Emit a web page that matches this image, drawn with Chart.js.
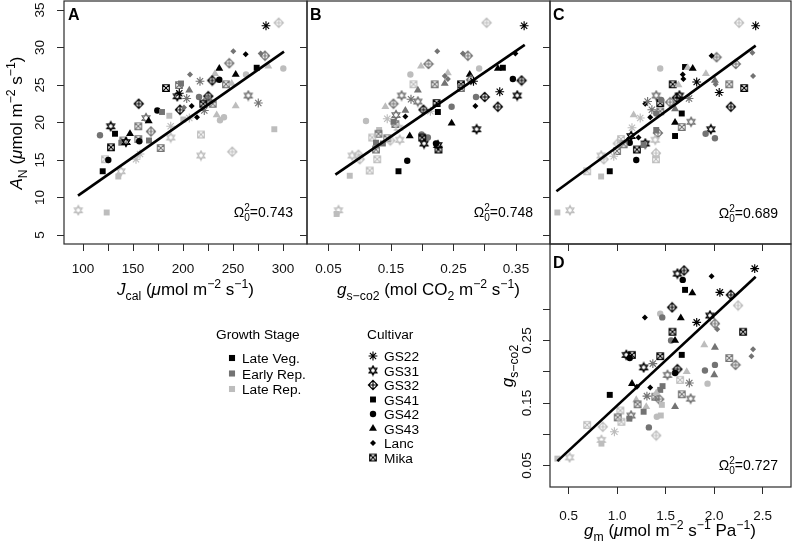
<!DOCTYPE html>
<html>
<head>
<meta charset="utf-8">
<script src="https://cdn.jsdelivr.net/npm/chart.js@4.4.0/dist/chart.umd.min.js"></script>
<style>
  html, body { margin: 0; padding: 0; background: #fff; }
  #wrap { position: relative; width: 793px; height: 545px; overflow: hidden; }
  #wrap canvas { position: absolute; left: 0; top: 0; }
</style>
</head>
<body>
<div id="wrap">
  <canvas id="cA" width="793" height="545"></canvas>
  <canvas id="cB" width="793" height="545"></canvas>
  <canvas id="cC" width="793" height="545"></canvas>
  <canvas id="cD" width="793" height="545"></canvas>
</div>
<script>
// cultivar index -> marker, stage index -> grey level
const cultivars = ['GS22', 'GS31', 'GS32', 'GS41', 'GS42', 'GS43', 'Lanc', 'Mika'];
const stages = ['Late Veg.', 'Early Rep.', 'Late Rep.'];
const stageColors = ['#000000', '#737373', '#bdbdbd'];

// tick labels
const ticksJcal = [100, 150, 200, 250, 300];
const ticksGs = [0.05, 0.15, 0.25, 0.35];
const ticksGm = [0.5, 1.0, 1.5, 2.0, 2.5];
const ticksAN = [5, 10, 15, 20, 25, 30, 35];
const ticksGsY = [0.05, 0.15, 0.25];

// fit statistics
const omegaA = '0.743', omegaB = '0.748', omegaC = '0.689', omegaD = '0.727';

// regression line end points
const fitA = [[95, 10.25], [301, 29.45]];
const fitB = [[0.061, 13.05], [0.364, 30.35]];
const fitC = [[0.374, 10.84], [2.428, 30.25]];
const fitD = [[0.384, 0.057], [2.428, 0.352]];

// [x, y, cultivar, stage]
// A: Jcal vs AN
const ptsA = [
  [283,32.9,0,0],[295.7,33.3,2,2],[250.3,29.5,6,1],[262.7,29.1,6,0],[277.7,29.2,6,1],[282,28.9,2,1],
  [273.7,27.3,3,0],[285.3,27.5,5,2],[300.3,27.2,4,2],[246.3,27.9,2,1],[236.3,27.2,5,0],[252.7,26.4,5,0],
  [232,26.5,5,2],[207,26.4,6,1],[217,25.5,0,1],[229.3,25.6,2,0],[236.3,25.7,4,0],[243,25.1,7,1],
  [248.7,25.2,5,2],[263,26.4,4,2],[198,25.2,3,1],[196,25.0,7,1],[183,24.6,7,0],[196.3,23.9,0,0],
  [194.3,23.5,1,0],[206.3,24.3,5,1],[203.7,23.2,0,1],[216,23.4,4,1],[225.3,23.5,2,0],[224.3,23.0,2,1],
  [220.3,22.5,7,0],[229.7,22.5,7,1],[221.3,21.6,0,1],[208.7,22.2,6,0],[214,20.7,6,0],[197,21.7,2,0],
  [201,22.0,6,1],[233.7,21.0,5,2],[237,20.3,4,2],[241,20.7,4,2],[252.7,22.2,5,2],[265.3,23.6,1,1],
  [275.3,22.6,0,1],[155.7,22.5,2,0],[163,20.6,1,1],[165.7,20.2,5,0],[174.3,21.6,4,0],[179,21.4,3,1],
  [186.3,20.9,3,2],[200.3,20.4,3,2],[206.3,20.6,0,2],[155.3,19.5,7,1],[168,18.8,2,1],[147,18.5,5,0],
  [127.7,19.5,1,0],[117,18.3,4,1],[132,18.5,3,0],[140.3,17.6,7,1],[138.3,17.3,3,1],[143,17.4,1,0],
  [128,16.7,7,0],[155.3,17.8,7,1],[156.3,17.5,4,0],[166,17.6,3,1],[157,15.8,0,2],[177.7,16.6,7,1],
  [187.7,18.0,1,2],[187.7,19.5,0,2],[218,18.4,7,2],[218,15.6,1,2],[249.3,16.1,2,2],[291.3,19.1,3,2],
  [122,15.1,7,2],[125.3,15.0,4,0],[119.7,13.5,3,0],[135.3,12.8,3,2],[138,13.5,1,2],[95.3,8.3,1,2],
  [123.7,8.0,3,2],[153,15.1,0,2]
];
// B: gs vs AN
const ptsB = [
  [0.363,32.9,0,0],[0.303,33.3,2,2],[0.224,29.5,6,1],[0.265,29.2,6,1],[0.273,28.9,2,1],[0.210,27.8,2,1],
  [0.198,27.5,5,2],[0.181,26.4,4,2],[0.241,26.6,5,2],[0.241,25.8,6,1],[0.236,26.2,6,1],[0.220,25.1,7,1],
  [0.236,25.2,5,1],[0.186,25.1,7,2],[0.193,24.3,5,1],[0.262,25.1,7,0],[0.262,24.6,7,1],[0.276,26.4,5,0],
  [0.278,25.7,2,1],[0.282,25.5,0,0],[0.291,27.2,4,2],[0.321,27.2,5,0],[0.329,27.3,3,0],[0.349,29.2,6,0],
  [0.345,25.8,4,0],[0.359,25.6,2,0],[0.324,24.1,0,0],[0.352,23.6,1,0],[0.300,23.4,2,0],[0.286,23.4,4,1],
  [0.285,22.2,6,0],[0.321,22.1,2,0],[0.287,19.1,1,0],[0.247,22.1,4,1],[0.247,19.9,5,0],[0.223,22.6,7,0],
  [0.225,21.4,3,0],[0.202,21.7,2,0],[0.213,21.5,0,2],[0.167,23.6,1,1],[0.182,23.1,0,1],[0.193,22.8,1,1],
  [0.141,22.1,5,2],[0.154,22.5,2,1],[0.173,21.6,5,1],[0.158,21.0,1,1],[0.173,20.8,6,0],[0.144,20.5,0,2],
  [0.154,20.1,3,1],[0.157,19.8,7,1],[0.162,19.3,1,2],[0.110,20.2,4,2],[0.131,19.0,3,2],[0.130,18.5,7,1],
  [0.120,18.0,7,2],[0.126,17.3,3,1],[0.137,17.2,3,1],[0.144,17.9,7,1],[0.149,17.6,2,2],[0.164,17.7,1,2],
  [0.180,18.2,5,0],[0.126,16.4,7,1],[0.098,15.7,2,2],[0.088,15.6,1,2],[0.100,15.1,2,2],[0.128,15.1,7,2],
  [0.116,13.6,7,2],[0.084,12.9,3,2],[0.176,14.9,4,0],[0.162,13.5,3,0],[0.199,18.4,4,1],[0.209,18.0,4,1],
  [0.200,18.0,7,0],[0.203,17.2,1,0],[0.222,17.2,4,0],[0.225,17.0,1,0],[0.226,16.4,7,0],[0.063,7.8,3,2],
  [0.066,8.3,1,2]
];
// C: gm vs AN
const ptsC = [
  [2.428,32.9,0,0],[2.257,33.3,2,2],[2.025,28.7,2,1],[1.973,28.9,6,0],[2.223,27.8,2,1],[2.394,29.3,6,1],
  [2.401,26.2,6,1],[2.155,25.1,7,1],[2.309,24.6,7,0],[2.008,25.6,5,1],[2.015,25.1,6,1],[2.052,24.0,0,0],
  [1.915,26.5,5,2],[2.172,22.1,2,0],[1.966,19.1,1,0],[1.912,18.5,4,1],[2.008,17.9,4,1],[1.444,27.2,4,2],
  [1.700,27.4,3,0],[1.727,27.3,5,2],[1.779,27.2,5,0],[1.676,26.4,6,0],[1.683,25.8,6,0],[1.820,25.4,0,0],
  [1.573,25.1,7,0],[1.632,25.0,5,2],[1.615,23.3,2,0],[1.642,23.6,1,0],[1.741,23.2,0,1],[1.403,23.6,1,1],
  [1.444,22.6,7,0],[1.454,23.0,4,1],[1.290,22.5,6,0],[1.314,22.8,0,1],[1.358,21.7,0,1],[1.341,20.7,6,0],
  [1.403,21.2,4,1],[1.444,21.5,7,1],[1.546,22.7,2,1],[1.597,21.8,5,1],[1.666,21.2,3,0],[1.597,20.0,5,0],
  [1.762,20.1,1,1],[1.666,19.4,7,1],[1.597,18.2,3,0],[1.170,21.0,5,2],[1.238,20.6,0,2],[1.153,19.3,0,2],
  [1.143,18.2,1,0],[1.130,17.3,4,0],[1.204,16.4,7,0],[1.290,17.2,1,0],[1.273,17.0,3,1],[1.197,15.0,4,0],
  [1.420,18.6,2,1],[1.403,19.0,3,1],[1.393,17.7,1,2],[1.400,15.9,2,2],[1.400,15.1,7,2],[1.040,17.8,7,2],
  [0.999,16.2,7,1],[0.965,15.5,0,2],[0.862,15.1,2,2],[0.835,15.6,1,2],[0.924,13.5,3,0],[0.835,12.8,3,2],
  [0.691,13.5,7,2],[0.514,8.3,1,2],[0.384,8.0,3,2],[1.067,17.1,7,1],[1.006,17.2,2,2],[1.220,18.0,6,0]
];
// D: gm vs gs
const ptsD = [
  [2.418,0.365,0,0],[1.973,0.353,6,0],[1.690,0.362,2,0],[1.621,0.357,1,0],[1.676,0.347,4,0],[1.700,0.331,3,0],
  [1.775,0.326,5,0],[2.059,0.327,0,0],[2.172,0.323,2,0],[2.247,0.306,2,2],[1.956,0.290,1,0],[2.008,0.277,2,1],
  [2.032,0.268,6,1],[2.298,0.264,7,0],[1.567,0.303,2,0],[1.444,0.293,4,2],[1.465,0.287,4,1],[1.286,0.287,6,0],
  [1.656,0.286,5,0],[1.820,0.279,0,0],[1.570,0.264,7,0],[1.556,0.250,4,1],[1.597,0.250,5,0],[1.898,0.243,5,2],
  [2.008,0.239,5,1],[2.401,0.236,6,1],[2.384,0.225,6,1],[2.155,0.222,7,1],[2.220,0.211,2,1],[1.666,0.227,3,0],
  [1.444,0.225,7,0],[1.094,0.227,1,0],[1.152,0.227,7,0],[1.130,0.222,4,0],[1.273,0.207,1,0],[1.368,0.213,0,1],
  [1.621,0.204,2,0],[1.597,0.198,4,0],[1.717,0.200,5,2],[1.519,0.195,1,1],[1.744,0.182,0,1],[1.649,0.187,7,2],
  [1.905,0.202,4,1],[2.008,0.211,4,1],[2.001,0.195,5,1],[1.932,0.181,4,2],[1.153,0.181,5,0],[1.204,0.176,6,0],
  [1.341,0.175,6,0],[0.924,0.163,3,0],[1.666,0.164,7,1],[1.758,0.157,1,1],[1.468,0.177,3,1],[1.444,0.171,3,1],
  [1.307,0.161,0,1],[1.393,0.160,7,1],[1.434,0.156,2,1],[1.403,0.166,5,2],[1.597,0.144,5,1],[1.197,0.155,5,2],
  [1.211,0.148,7,1],[1.300,0.144,5,2],[1.273,0.136,3,1],[1.143,0.130,1,1],[1.126,0.125,3,1],[1.033,0.138,7,2],
  [1.006,0.127,7,1],[1.044,0.120,7,2],[1.409,0.128,4,2],[1.450,0.130,3,2],[1.327,0.111,4,1],[1.403,0.098,2,2],
  [1.461,0.147,3,2],[0.852,0.112,2,2],[0.691,0.115,7,2],[0.972,0.104,0,2],[0.838,0.091,1,2],[0.838,0.085,3,2],
  [0.384,0.061,3,2],[0.510,0.063,1,2]
];

const FONT = "'Liberation Sans', Arial, Helvetica, sans-serif";
const W = 793, H = 545;
Chart.defaults.font.family = FONT;

// hollow R-style symbols drawn once into small canvases
function icon(kind, color) {
  const s = 12, m = s / 2;
  const c = document.createElement('canvas');
  c.width = s; c.height = s;
  const g = c.getContext('2d');
  g.strokeStyle = color;
  g.lineWidth = 1.15;
  g.beginPath();
  if (kind === 'david') {
    const r = 4.6;
    for (const start of [-Math.PI / 2, Math.PI / 2]) {
      for (let k = 0; k < 3; k++) {
        const ang = start + k * 2 * Math.PI / 3;
        const px = m + r * Math.cos(ang), py = m + r * Math.sin(ang);
        if (k === 0) g.moveTo(px, py); else g.lineTo(px, py);
      }
      g.closePath();
    }
  } else if (kind === 'dplus') {
    const r = 4.6;
    g.moveTo(m, m - r); g.lineTo(m + r, m); g.lineTo(m, m + r); g.lineTo(m - r, m); g.closePath();
    g.moveTo(m, m - r); g.lineTo(m, m + r);
    g.moveTo(m - r, m); g.lineTo(m + r, m);
  } else {
    const r = 3.3;
    g.rect(m - r, m - r, 2 * r, 2 * r);
    g.moveTo(m - r, m - r); g.lineTo(m + r, m + r);
    g.moveTo(m + r, m - r); g.lineTo(m - r, m + r);
  }
  g.stroke();
  return c;
}
const icons = {
  1: stageColors.map(c => icon('david', c)),
  2: stageColors.map(c => icon('dplus', c)),
  7: stageColors.map(c => icon('sqx', c))
};
const shapes = { 0: ['star', 4.4], 3: ['rect', 4.2], 4: ['circle', 3.2], 5: ['triangle', 4.6], 6: ['rectRot', 3.0] };

function ptStyle(ctx) {
  const r = ctx.raw;
  if (!r) return 'circle';
  return icons[r.c] ? icons[r.c][r.s] : shapes[r.c][0];
}
function ptRadius(ctx) {
  const r = ctx.raw;
  if (!r) return 3;
  return icons[r.c] ? 5 : shapes[r.c][1];
}
function ptColor(ctx) {
  const r = ctx.raw;
  return r ? stageColors[r.s] : '#000';
}
function ptBorder(ctx) {
  const r = ctx.raw;
  return r && r.c === 0 ? 1.15 : 0;
}

function makeDatasets(pts, fit) {
  return [
    {
      data: fit.map(p => ({ x: p[0], y: p[1] })),
      showLine: true, borderColor: '#000', borderWidth: 2.6,
      pointRadius: 0, pointHoverRadius: 0
    },
    {
      data: pts.map(p => ({ x: p[0], y: p[1], c: p[2], s: p[3] })),
      showLine: false,
      pointStyle: ptStyle, pointRadius: ptRadius,
      pointBackgroundColor: ptColor, pointBorderColor: ptColor, pointBorderWidth: ptBorder
    }
  ];
}

// rich text with italic / sub / superscript pieces
function rich(ctx, segs, cx, cy, size, rot) {
  const items = segs.map(s => {
    const sz = (s.sub || s.sup) ? size * 0.72 : size;
    const font = (s.i ? 'italic ' : '') + sz + 'px ' + FONT;
    ctx.font = font;
    return { s, font, w: ctx.measureText(s.t).width };
  });
  const total = items.reduce((a, it) => a + it.w, 0);
  ctx.save();
  ctx.translate(cx, cy);
  if (rot) ctx.rotate(-Math.PI / 2);
  ctx.textAlign = 'left';
  ctx.textBaseline = 'alphabetic';
  ctx.fillStyle = '#000';
  let x = -total / 2;
  items.forEach(it => {
    ctx.font = it.font;
    const dy = it.s.sub ? size * 0.28 : it.s.sup ? -size * 0.42 : 0;
    ctx.fillText(it.s.t, x, dy);
    x += it.w;
  });
  ctx.restore();
}

function drawOmega(ctx, val, right, base) {
  const fs = 14, ss = 10;
  ctx.font = fs + 'px ' + FONT;
  const wO = ctx.measureText('\u03A9').width;
  const wR = ctx.measureText('=' + val).width;
  ctx.font = ss + 'px ' + FONT;
  const wS = ctx.measureText('0').width;
  let x = right - (wO + wS + wR);
  ctx.textAlign = 'left';
  ctx.textBaseline = 'alphabetic';
  ctx.fillStyle = '#000';
  ctx.font = fs + 'px ' + FONT;
  ctx.fillText('\u03A9', x, base);
  x += wO;
  ctx.font = ss + 'px ' + FONT;
  ctx.fillText('2', x, base - 6);
  ctx.fillText('0', x, base + 3.5);
  x += wS;
  ctx.font = fs + 'px ' + FONT;
  ctx.fillText('=' + val, x, base);
}

const decor = {
  id: 'decor',
  afterDraw(chart, args, o) {
    const ctx = chart.ctx, a = chart.chartArea;
    ctx.save();
    ctx.strokeStyle = '#2b2b2b';
    ctx.lineWidth = 1.2;
    ctx.strokeRect(a.left, a.top, a.right - a.left, a.bottom - a.top);
    ctx.fillStyle = '#000';
    ctx.font = 'bold 16px ' + FONT;
    ctx.textAlign = 'left';
    ctx.textBaseline = 'alphabetic';
    ctx.fillText(o.letter, o.letterAt[0], o.letterAt[1]);
    drawOmega(ctx, o.omega, o.omegaAt[0], o.omegaAt[1]);
    (o.titles || []).forEach(t => rich(ctx, t.segs, t.x, t.y, 17, t.rot));
    ctx.restore();
  }
};

const legendPlugin = {
  id: 'legendBlock',
  afterDraw(chart) {
    const ctx = chart.ctx;
    ctx.save();
    ctx.fillStyle = '#000';
    ctx.strokeStyle = '#000';
    ctx.textAlign = 'left';
    ctx.textBaseline = 'alphabetic';
    ctx.font = '13.7px ' + FONT;
    ctx.fillText('Growth Stage', 216, 339);
    ctx.fillText('Cultivar', 367, 339);
    stages.forEach((name, i) => {
      const y = 358 + i * 15.5;
      ctx.fillStyle = stageColors[i];
      Chart.helpers.drawPoint(ctx, { pointStyle: 'rect', radius: 4.3, borderWidth: 0, rotation: 0 }, 232, y);
      ctx.fillStyle = '#000';
      ctx.fillText(name, 242, y + 5);
    });
    cultivars.forEach((name, i) => {
      const y = 356 + i * 14.5;
      ctx.fillStyle = '#000';
      ctx.strokeStyle = '#000';
      ctx.lineWidth = 1.15;
      const style = icons[i] ? icons[i][0] : shapes[i][0];
      const radius = icons[i] ? 5 : shapes[i][1];
      Chart.helpers.drawPoint(ctx, { pointStyle: style, radius, borderWidth: i === 0 ? 1.15 : 0, rotation: 0 }, 373, y);
      ctx.fillText(name, 384, y + 5);
    });
    ctx.restore();
  }
};

function inList(list, v) { return list.some(t => Math.abs(t - v) < 1e-9); }

function axis(a, dir) {
  const isX = dir === 'x';
  return {
    type: 'linear',
    position: isX ? 'bottom' : 'left',
    min: a.min, max: a.max,
    grid: { display: true, drawOnChartArea: false, drawTicks: true, tickLength: 7, tickColor: '#2b2b2b', lineWidth: 1 },
    border: { display: false },
    ticks: {
      stepSize: a.step,
      includeBounds: false,
      autoSkip: false,
      display: !!a.labels,
      font: { size: 13.5, family: FONT },
      color: '#111',
      padding: a.pad || 0,
      minRotation: isX ? 0 : 90,
      maxRotation: isX ? 0 : 90,
      crossAlign: isX ? 'near' : 'center',
      callback: v => (a.labels && inList(a.labels, v)) ? v.toFixed(a.dec) : ''
    },
    afterBuildTicks: s => { s.ticks = s.ticks.filter(t => t.value >= a.lo - 1e-9 && t.value <= a.hi + 1e-9); },
    afterFit: s => {
      if (isX) { s.height = 50; s.paddingLeft = 0; s.paddingRight = 0; }
      else { s.width = 50; s.paddingTop = 0; s.paddingBottom = 0; }
    }
  };
}

function panel(id, cfg) {
  const b = cfg.box; // left, top, right, bottom of the plot frame
  return new Chart(document.getElementById(id), {
    type: 'scatter',
    data: { datasets: makeDatasets(cfg.pts, cfg.fit) },
    options: {
      responsive: false,
      animation: false,
      events: [],
      layout: { autoPadding: false, padding: { left: b[0] - 50, top: b[1], right: W - b[2], bottom: H - b[3] - 50 } },
      plugins: { legend: { display: false }, tooltip: { enabled: false }, decor: cfg.decor },
      scales: { x: axis(cfg.x, 'x'), y: axis(cfg.y, 'y') }
    },
    plugins: [decor].concat(cfg.extra || [])
  });
}

const yAN = { min: 3.8, max: 36.2, step: 5, lo: 5, hi: 35 };
const yANs = { min: 3.8, max: 36.2, step: 5, lo: 5, hi: 30 };

panel('cA', {
  box: [64, 1, 307, 244], pts: ptsA, fit: fitA,
  x: { min: 81, max: 324, step: 25, lo: 100, hi: 300, labels: ticksJcal, dec: 0, pad: 10 },
  y: Object.assign({}, yAN, { labels: ticksAN, dec: 0, pad: 9 }),
  decor: {
    letter: 'A', letterAt: [68, 20], omega: omegaA, omegaAt: [293, 217],
    titles: [
      { x: 185.5, y: 295, segs: [{ t: 'J', i: 1 }, { t: 'cal', sub: 1 }, { t: ' (' }, { t: '\u03BC', i: 1 }, { t: 'mol m' }, { t: '\u22122', sup: 1 }, { t: ' s' }, { t: '\u22121', sup: 1 }, { t: ')' }] },
      { x: 22, y: 123, rot: 1, segs: [{ t: 'A', i: 1 }, { t: 'N', sub: 1 }, { t: ' (' }, { t: '\u03BC', i: 1 }, { t: 'mol m' }, { t: '\u22122', sup: 1 }, { t: ' s' }, { t: '\u22121', sup: 1 }, { t: ')' }] }
    ]
  }
});

panel('cB', {
  box: [307, 1, 550, 244], pts: ptsB, fit: fitB,
  x: { min: 0.0156, max: 0.4044, step: 0.05, lo: 0.05, hi: 0.35, labels: ticksGs, dec: 2, pad: 10 },
  y: yANs,
  decor: {
    letter: 'B', letterAt: [310, 20], omega: omegaB, omegaAt: [533, 217],
    titles: [
      { x: 428.5, y: 295, segs: [{ t: 'g', i: 1 }, { t: 's\u2212co2', sub: 1 }, { t: ' (mol CO' }, { t: '2', sub: 1 }, { t: ' m' }, { t: '\u22122', sup: 1 }, { t: ' s' }, { t: '\u22121', sup: 1 }, { t: ')' }] }
    ]
  }
});

panel('cC', {
  box: [550, 1, 791, 244], pts: ptsC, fit: fitC,
  x: { min: 0.308, max: 2.792, step: 0.5, lo: 0.5, hi: 2.5 },
  y: yANs,
  decor: { letter: 'C', letterAt: [553, 20], omega: omegaC, omegaAt: [778, 218] }
});

panel('cD', {
  box: [550, 244, 791, 487], pts: ptsD, fit: fitD,
  x: { min: 0.308, max: 2.792, step: 0.5, lo: 0.5, hi: 2.5, labels: ticksGm, dec: 1, pad: 14 },
  y: { min: 0.0156, max: 0.4044, step: 0.05, lo: 0.05, hi: 0.30, labels: ticksGsY, dec: 2, pad: 3 },
  decor: {
    letter: 'D', letterAt: [553, 268], omega: omegaD, omegaAt: [778, 470],
    titles: [
      { x: 670, y: 536, segs: [{ t: 'g', i: 1 }, { t: 'm', sub: 1 }, { t: ' (' }, { t: '\u03BC', i: 1 }, { t: 'mol m' }, { t: '\u22122', sup: 1 }, { t: ' s' }, { t: '\u22121', sup: 1 }, { t: ' Pa' }, { t: '\u22121', sup: 1 }, { t: ')' }] },
      { x: 513, y: 366, rot: 1, segs: [{ t: 'g', i: 1 }, { t: 's\u2212co2', sub: 1 }] }
    ]
  },
  extra: [legendPlugin]
});
</script>
</body>
</html>
